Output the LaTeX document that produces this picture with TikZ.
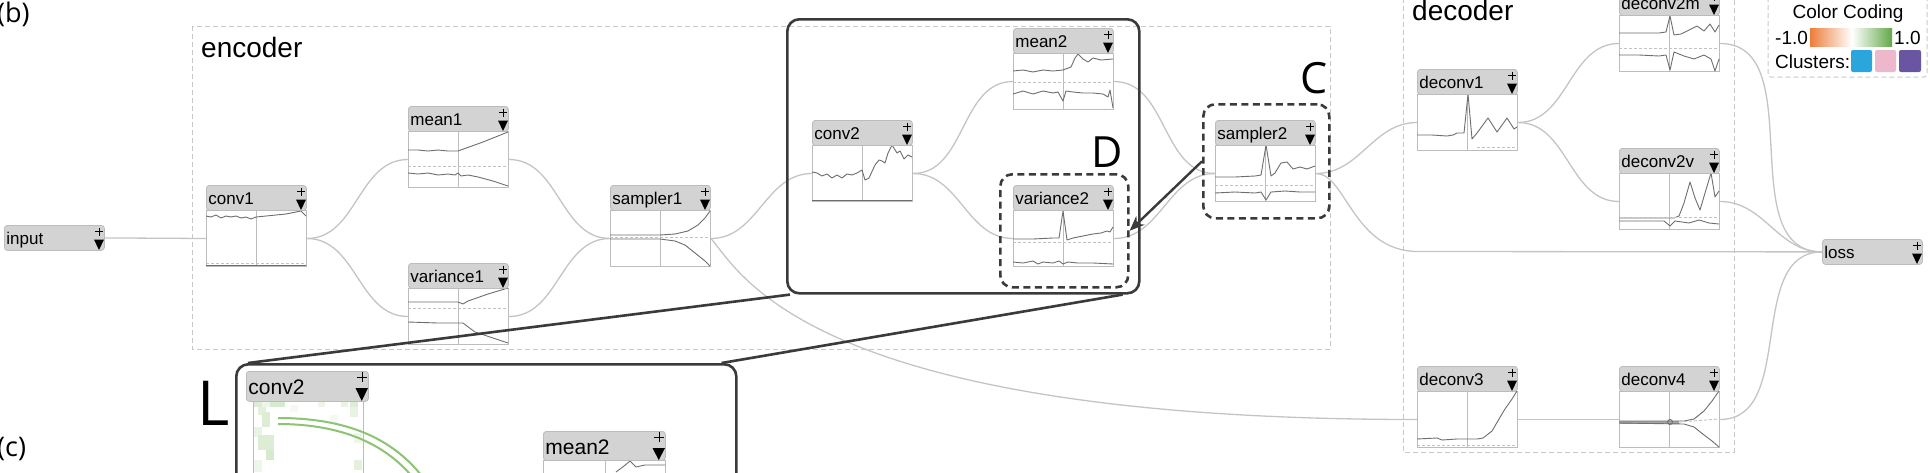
\documentclass[tikz,border=0pt]{standalone}
\usepackage{fontspec}
\setmainfont{Liberation Sans}
\newfontfamily\lettres{Open Sans}
\usepackage{tikz}
\usetikzlibrary{arrows.meta}

\definecolor{liengris}{HTML}{C4C4C4}
\definecolor{entetefond}{HTML}{D3D3D3}
\definecolor{entetebord}{HTML}{BCBCBC}
\definecolor{cadregris}{HTML}{C8C8C8}
\definecolor{courbegris}{HTML}{6E6E6E}
\definecolor{tiretgris}{HTML}{C2C2C2}
\definecolor{loupegris}{HTML}{3A3A3A}
\definecolor{vertclair}{HTML}{8CC473}
\definecolor{orangeleg}{HTML}{EE7D3A}
\definecolor{vertleg}{HTML}{62A848}
\definecolor{bleuleg}{HTML}{2AA6DD}
\definecolor{roseleg}{HTML}{EDB7CC}
\definecolor{violetleg}{HTML}{6A55A2}

\tikzset{
  entete/.style={draw=entetebord, line width=0.8pt, fill=entetefond, rounded corners=3pt, anchor=north west,
    minimum width=100pt, minimum height=25pt, text width=96pt, align=left, inner xsep=2pt, inner ysep=0pt,
    text height=14pt, text depth=0pt, font=\fontsize{17}{17}\selectfont},
  trace/.style={draw=entetebord, line width=1pt, fill=white, anchor=north west, minimum width=100pt,
    minimum height=56pt, inner sep=0pt},
  milieu/.style={draw=entetebord, line width=1pt},
  courbe/.style={draw=courbegris, line width=0.9pt, line join=round},
  tiret/.style={draw=tiretgris, line width=0.9pt, dash pattern=on 3pt off 2pt},
  croix/.style={draw=black, line width=0.9pt},
  lien/.style={draw=liengris, line width=1.3pt},
  groupe/.style={draw=cadregris, line width=1pt, dash pattern=on 5pt off 3pt},
  loupe/.style={draw=loupegris, line width=2.6pt, rounded corners=12pt, anchor=north west, inner sep=0pt},
  cadre/.style={draw=loupegris, line width=2.6pt, rounded corners=12pt, anchor=north west, inner sep=0pt,
    dash pattern=on 7pt off 4.5pt},
  trait/.style={draw=loupegris, line width=2.6pt},
  fleche/.style={draw=loupegris, line width=2.4pt, -{Stealth[length=15pt,width=12pt]}},
  lettre/.style={anchor=base west, inner sep=0pt, font=\lettres\fontsize{43}{43}\selectfont},
  titre/.style={anchor=base west, inner sep=0pt, font=\fontsize{28}{28}\selectfont},
  legende/.style={anchor=base west, inner sep=0pt, font=\fontsize{19}{19}\selectfont}
}

% entete d'une couche : nom, etiquette, x, y
\newcommand{\tete}[4]{%
  \node[entete] (#1) at (#3,#4) {#2};
  \draw[croix] (#3+91,#4+6.5) -- (#3+99,#4+6.5);
  \draw[croix] (#3+95,#4+2.5) -- (#3+95,#4+10.5);
  \fill (#3+90,#4+14.5) -- (#3+100,#4+14.5) -- (#3+95,#4+25) -- cycle;
}
% couche complete : nom, etiquette, x, y, courbes
\newcommand{\couche}[5]{%
  \node[trace] (#1p) at (#3,#4+25) {};
  \begin{scope}[shift={(#3,#4+25)}]
    \draw[milieu] (50,0) -- (50,56);
    #5
  \end{scope}
  \tete{#1}{#2}{#3}{#4}
}

\begin{document}
\begin{tikzpicture}[x=1pt, y=-1pt]
	\useasboundingbox (0,0) rectangle (1930,472);
	\clip (0,0) rectangle (1930,472);
	%les groupes
	\draw[groupe] (192,26) rectangle (1330,349);
	\draw[groupe] (1403,-10) rectangle (1734,452);
	\node[titre] (nomenc) at (201,57) {encoder};
	\node[titre] (nomdec) at (1412,20) {decoder};
	\node[anchor=base west, inner sep=0pt, font=\lettres\fontsize{27}{27}\selectfont] (tagb) at (-3,22) {(b)};
	\node[anchor=base west, inner sep=0pt, font=\lettres\fontsize{27}{27}\selectfont] (tagc) at (-3,456) {(c)};
	%les couches
	\tete{input}{input}{4}{225}
	\couche{conv1}{conv1}{206}{185}{
		\draw[courbe] (0,6) -- (5,7) -- (10,5) -- (15,8) -- (20,6) -- (25,7) -- (30,6) -- (35,8) -- (40,7) -- (45,9) -- (50,7) -- (60,6) -- (70,5) -- (80,4) -- (90,2) -- (95,1) -- (100,6);
		\draw[tiret] (0,53) -- (100,53);
		\draw[courbe] (0,55) -- (100,55);}
	\couche{mean1}{mean1}{408}{106}{
		\draw[courbe] (0,19) -- (10,19) -- (20,20) -- (30,19) -- (40,20) -- (50,20) -- (75,11) -- (100,1);
		\draw[tiret] (0,35) -- (100,35);
		\draw[courbe] (0,42) -- (10,43) -- (20,42) -- (30,44) -- (40,43) -- (47,44) -- (50,42) -- (53,45) -- (60,44) -- (70,46) -- (85,50) -- (100,55);}
	\couche{variance1}{variance1}{408}{263}{
		\draw[courbe] (0,14) -- (25,14) -- (50,14) -- (55,16) -- (60,13) -- (80,6) -- (100,0);
		\draw[tiret] (0,20) -- (100,20);
		\draw[courbe] (0,34) -- (30,35) -- (55,35) -- (67,44) -- (85,50) -- (100,55);}
	\couche{sampler1}{sampler1}{610}{185}{
		\draw[courbe] (0,25) -- (50,25) -- (65,24) -- (78,21) -- (88,15) -- (95,8) -- (100,1);
		\draw[tiret] (0,27) -- (100,27);
		\draw[courbe] (0,29) -- (50,29) -- (65,31) -- (75,35) -- (85,43) -- (95,51) -- (100,56);}
	\couche{conv2}{conv2}{812}{120}{
		\draw[courbe] (0,27) -- (5,28) -- (10,31) -- (15,29) -- (20,33) -- (25,30) -- (30,33) -- (35,29) -- (40,30) -- (45,28) -- (50,25) -- (53,35) -- (57,33) -- (63,20) -- (67,15) -- (70,16) -- (73,18) -- (76,8) -- (80,0) -- (85,8) -- (88,6) -- (92,14) -- (96,10) -- (100,12);
		\draw[courbe] (0,55) -- (100,55);}
	\couche{mean2}{mean2}{1013}{28}{
		\draw[courbe] (0,18) -- (10,17) -- (20,19) -- (30,17) -- (40,18) -- (50,17) -- (58,14) -- (62,5) -- (65,1) -- (70,6) -- (75,9) -- (80,5) -- (88,7) -- (100,6);
		\draw[tiret] (0,29) -- (100,29);
		\draw[courbe] (0,41) -- (10,38) -- (20,41) -- (30,38) -- (40,40) -- (45,39) -- (50,48) -- (53,38) -- (60,39) -- (70,40) -- (80,40) -- (90,41) -- (95,44) -- (97,37) -- (100,55);}
	\couche{variance2}{variance2}{1013}{185}{
		\draw[courbe] (0,29) -- (20,29) -- (40,28) -- (46,28) -- (50,1) -- (54,30) -- (60,28) -- (70,26) -- (80,24) -- (88,23) -- (94,21) -- (97,22) -- (100,17);
		\draw[tiret] (0,32) -- (100,32);
		\draw[courbe] (0,52) -- (10,53) -- (20,51) -- (25,54) -- (30,52) -- (40,53) -- (46,51) -- (50,54) -- (55,52) -- (65,53) -- (80,53) -- (100,54);}
	\couche{sampler2}{sampler2}{1215}{120}{
		\draw[courbe] (0,32) -- (20,32) -- (40,31) -- (46,30) -- (51,0) -- (56,31) -- (60,28) -- (66,18) -- (72,17) -- (78,24) -- (85,22) -- (92,24) -- (100,21);
		\draw[tiret] (0,40) -- (100,40);
		\draw[courbe] (0,48) -- (20,47) -- (40,48) -- (46,47) -- (51,55) -- (56,47) -- (70,46) -- (85,47) -- (100,47);}
	\couche{deconv1}{deconv1}{1417}{69}{
		\draw[courbe] (0,41) -- (15,41) -- (30,42) -- (36,41) -- (40,39) -- (47,39) -- (51,0) -- (55,45) -- (60,39) -- (71,24) -- (80,38) -- (90,24) -- (97,35) -- (100,33);
		\draw[tiret] (60,53) -- (100,53);}
	\couche{deconv2m}{deconv2m}{1619}{-10}{
		\draw[courbe] (0,18) -- (20,18) -- (40,18) -- (47,17) -- (51,1) -- (55,20) -- (62,19) -- (70,15) -- (78,11) -- (85,16) -- (91,9) -- (96,17) -- (100,10);
		\draw[tiret] (0,33) -- (100,33);
		\draw[courbe] (0,40) -- (20,40) -- (40,41) -- (47,40) -- (51,55) -- (55,37) -- (65,41) -- (75,44) -- (85,40) -- (92,44) -- (96,56) -- (100,44);}
	\couche{deconv2v}{deconv2v}{1619}{148}{
		\draw[courbe] (0,45) -- (30,45) -- (55,45) -- (60,43) -- (65,30) -- (71,9) -- (76,25) -- (81,37) -- (86,20) -- (92,0) -- (96,24) -- (100,18);
		\draw[tiret] (0,44) -- (100,44);
		\draw[courbe] (0,48) -- (45,48) -- (51,53) -- (56,48) -- (70,50) -- (80,47) -- (90,50) -- (100,51);}
	\couche{deconv3}{deconv3}{1417}{366}{
		\draw[courbe] (0,48) -- (20,47) -- (25,49) -- (40,48) -- (60,48) -- (66,47) -- (75,40) -- (82,28) -- (88,18) -- (95,8) -- (100,0);
		\draw[tiret] (0,54) -- (100,54);}
	\couche{deconv4}{deconv4}{1619}{366}{
		\draw[draw=gray!70, line width=3pt] (0,31) -- (60,31);
		\draw[courbe] (0,30) -- (65,30) -- (75,28) -- (85,20) -- (93,10) -- (100,0);
		\draw[courbe] (0,32) -- (65,33) -- (75,36) -- (85,44) -- (93,50) -- (100,56);
		\draw[tiret] (60,31) -- (100,28);
		\draw[courbe] (51,31) circle (2.5);}
	\tete{loss}{loss}{1822}{239}
	%les liens
	\draw[lien] (input.east) -- (conv1p.west);
	\draw[lien] (conv1p.east) to[out=0,in=180] (mean1p.west);
	\draw[lien] (conv1p.east) to[out=0,in=180] (variance1p.west);
	\draw[lien] (mean1p.east) to[out=0,in=180] (sampler1p.west);
	\draw[lien] (variance1p.east) to[out=0,in=180] (sampler1p.west);
	\draw[lien] (sampler1p.east) to[out=0,in=180] (conv2p.west);
	\draw[lien] (sampler1p.east) .. controls +(30,35) and +(-607,0) .. (deconv3p.west);
	\draw[lien] (conv2p.east) to[out=0,in=180] (mean2p.west);
	\draw[lien] (conv2p.east) to[out=0,in=180] (variance2p.west);
	\draw[lien] (mean2p.east) to[out=0,in=180] (sampler2p.west);
	\draw[lien] (variance2p.east) to[out=0,in=180] (sampler2p.west);
	\draw[lien] (sampler2p.east) to[out=0,in=180] (deconv1p.west);
	\coordinate (coude) at (1418,251.5);
	\draw[lien] (sampler2p.east) .. controls +(30,0) and +(-65,0) .. (coude) -- (loss.west);
	\draw[lien] (deconv1p.east) to[out=0,in=180] (deconv2mp.west);
	\draw[lien] (deconv1p.east) to[out=0,in=180] (deconv2vp.west);
	\draw[lien] (deconv2mp.east) to[out=0,in=180] (loss.west);
	\draw[lien] (deconv2vp.east) to[out=0,in=180] (loss.west);
	\draw[lien] (deconv3p.east) -- (deconv4p.west);
	\draw[lien] (deconv4p.east) to[out=0,in=180] (loss.west);
	%la legende
	\draw[groupe, rounded corners=3pt] (1768,-6) rectangle (1927,77);
	\node[anchor=base, inner sep=0pt, font=\fontsize{19}{19}\selectfont] (titreleg) at (1848,18) {Color Coding};
	\node[legende] (moins) at (1775,44) {-1.0};
	\shade[left color=orangeleg, right color=white] (1810,28) rectangle (1852,46);
	\shade[left color=white, right color=vertleg] (1852,28) rectangle (1892,46);
	\node[legende] (plus) at (1894,44) {1.0};
	\node[legende] (clusters) at (1775,68) {Clusters:};
	\fill[bleuleg, rounded corners=2pt] (1851,50) rectangle (1872,72);
	\fill[roseleg, rounded corners=2pt] (1875,50) rectangle (1896,72);
	\fill[violetleg, rounded corners=2pt] (1899,50) rectangle (1921,72);
	%le zoom
	\node[loupe, minimum width=352pt, minimum height=274pt] (zoomsrc) at (786,18) {};
	\node[cadre, minimum width=128pt, minimum height=113pt] (Dbox) at (999,173) {};
	\node[cadre, minimum width=126pt, minimum height=114pt] (Cbox) at (1202,103) {};
	\node[lettre] (lettreC) at (1300,93) {C};
	\node[lettre] (lettreD) at (1091,167) {D};
	\draw[fleche] (Cbox.west) -- (Dbox.east);
	\node[loupe, fill=white, minimum width=500pt, minimum height=160pt] (zoomdst) at (235,363) {};
	\node[anchor=base west, inner sep=0pt, font=\lettres\fontsize{62}{62}\selectfont] (lettreL) at (197,425) {L};
	%contenu agrandi
	\foreach \xa/\ya/\xb/\yb/\t in {254/401/262/407/30, 262/401/270/407/15, 270/401/285/407/35, 258/407/266/415/25,
		262/412/270/427/30, 254/427/262/437/20, 258/435/274/450/30, 266/450/274/460/35, 254/460/262/472/15,
		318/402/325/407/15, 341/402/348/407/20, 350/402/358/407/30, 350/407/358/417/20, 354/433/362/443/15,
		354/460/362/470/25, 290/405/298/412/10, 330/415/338/423/10}
		\fill[vertclair!\t] (\xa,\ya) rectangle (\xb,\yb);
	\draw[milieu] (253,401) -- (253,480);
	\draw[milieu] (363,401) -- (363,480);
	\draw[vertclair, line width=2pt] (278,418) .. controls (350,418) and (395,440) .. (425,480);
	\draw[vertclair, line width=2pt] (278,424) .. controls (345,424) and (388,446) .. (415,480);
	\node[entete, minimum width=122pt, minimum height=30pt, text width=118pt, text height=17pt, font=\fontsize{21}{21}\selectfont] (conv2L) at (246,371) {conv2};
	\draw[croix] (357,377) -- (367,377);
	\draw[croix] (362,372) -- (362,382);
	\fill (355.5,388) -- (368,388) -- (361.75,401) -- cycle;
	\node[trace, minimum width=122pt, minimum height=60pt] (mean2Lp) at (543,460) {};
	\draw[milieu] (605,460) -- (605,480);
	\draw[courbe] (616,472) -- (624,466) -- (630,461) -- (636,467) -- (645,465) -- (655,465) -- (665,465);
	\node[entete, minimum width=122pt, minimum height=29pt, text width=118pt, text height=17pt, font=\fontsize{21}{21}\selectfont] (mean2L) at (543,431) {mean2};
	\draw[croix] (654,437) -- (664,437);
	\draw[croix] (659,432) -- (659,442);
	\fill (652.5,448) -- (665,448) -- (658.75,460) -- cycle;
	%les traits du zoom
	\draw[trait] ([xshift=4pt]zoomsrc.south west) -- ([xshift=13pt]zoomdst.north west);
	\draw[trait] ([xshift=-18pt]zoomsrc.south east) -- ([xshift=-16pt]zoomdst.north east);
\end{tikzpicture}
\end{document}
